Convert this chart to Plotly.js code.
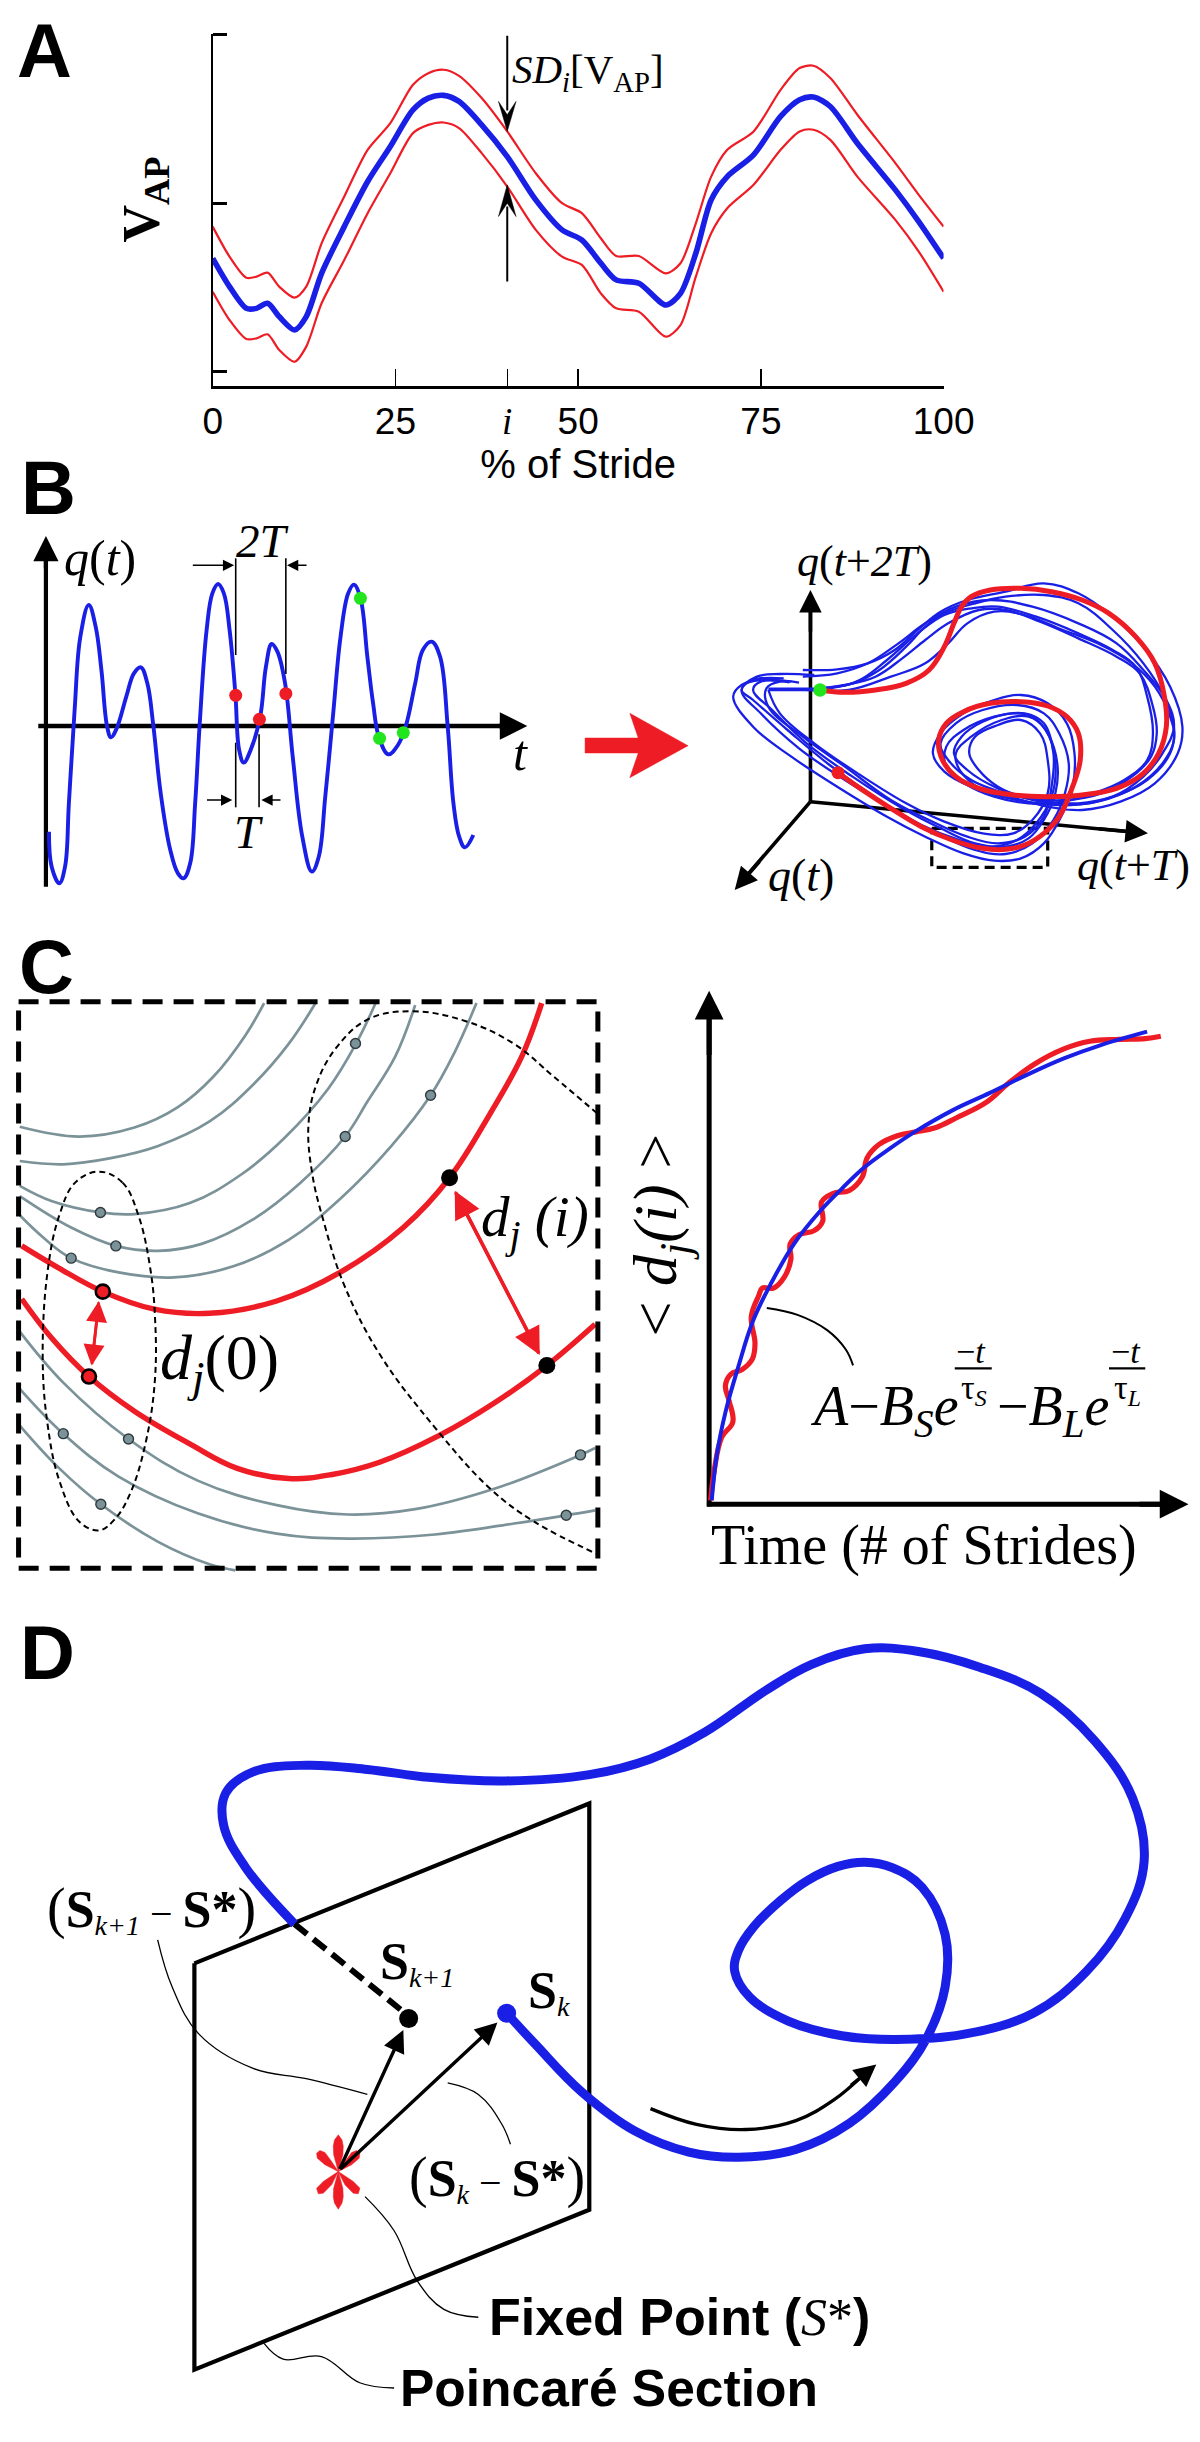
<!DOCTYPE html>
<html><head><meta charset="utf-8">
<script src="https://cdn.plot.ly/plotly-3.0.1.min.js"></script>
<style>html,body{margin:0;padding:0;background:#fff}</style></head>
<body><div id="chart" style="width:1200px;height:2442px"></div>
<script>
// ---------- Panel A data: % of stride vs V_AP ----------
const strideX=[0,2.3,4.6,6,7.5,9.1,11.2,12.8,14.9,18,21.2,24.3,27.4,29.5,31.6,33.7,36.8,40.3,44.2,47.8,50.5,53.1,55.2,58.3,62,64,66.1,68.2,70.4,74,77.7,80.3,82.2,84.5,88.2,93.4,96.6,100];
const vapMean=[-.327,-.495,-.624,-.624,-.594,-.673,-.752,-.673,-.416,-.139,.129,.337,.554,.624,.640,.604,.465,.277,.02,-.158,-.218,-.356,-.455,-.475,-.604,-.535,-.297,.02,.158,.287,.515,.614,.630,.574,.356,.079,-.109,-.327];
const vapUpper=[-.139,-.317,-.442,-.436,-.412,-.495,-.560,-.495,-.238,.040,.317,.475,.703,.772,.792,.756,.624,.426,.178,0,-.059,-.208,-.313,-.313,-.416,-.356,-.119,.158,.317,.426,.673,.802,.816,.743,.525,.238,.05,-.139];
const vapLower=[-.525,-.693,-.806,-.802,-.778,-.871,-.941,-.851,-.594,-.337,-.059,.178,.416,.465,.479,.446,.297,.099,-.158,-.317,-.366,-.535,-.624,-.644,-.792,-.723,-.436,-.178,-.03,.109,.317,.426,.436,.376,.158,-.099,-.287,-.525];
const strideTicks=[0,25,40.3,50,75,100];
const strideLabels=['0','25','<span style="font-family:Liberation Serif"><i>i</i></span>','50','75','100'];
const vapTicks=[-1,0,1];
const sdDownHead=[[40.3,.426],[41.5,.604],[40.3,.525],[39.1,.604],[40.3,.426]];
const sdUpHead=[[40.3,.109],[41.5,-.079],[40.3,0],[39.1,-.079],[40.3,.109]];

// ---------- Panel B data ----------
const qSignal=[[128,1085],[135,1190],[155,1240],[170,1190],[180,1000],[195,720],[210,500],[232,405],[250,470],[265,600],[280,770],[290,802],[305,775],[330,680],[350,610],[368,592],[385,640],[400,760],[420,970],[445,1140],[465,1210],[480,1225],[497,1180],[510,1000],[522,760],[540,480],[555,370],[570,342],[585,370],[600,480],[615,670],[625,840],[637,878],[655,840],[680,740],[695,590],[710,522],[725,545],[745,640],[765,860],[790,1100],[815,1205],[833,1160],[850,980],[870,740],[890,500],[910,370],[925,344],[942,385],[960,560],[975,700],[990,800],[1015,853],[1040,825],[1060,770],[1085,640],[1105,540],[1128,515],[1150,560],[1170,770],[1185,1000],[1200,1100],[1215,1132],[1237,1095]];
const qRedDots=[[616,676],[678,748],[747,671]];
const qGreenDots=[[942,385],[992,805],[1054,788]];
const qGuides=[[[616,265],[616,555]],[[747,265],[747,612]],[[616,818],[616,1012]],[[677,793],[677,1012]]];
const stateRed=[[622,818],[680,865],[760,925],[840,980],[920,1020],[1000,1045],[1060,1048],[1110,1035],[1160,1000],[1200,950],[1235,860],[1255,780],[1250,700],[1220,650],[1170,618],[1100,605],[1020,610],[950,635],[905,670],[885,720],[895,780],[930,830],[990,865],[1080,885],[1170,890],[1260,885],[1350,865],[1420,820],[1460,760],[1480,680],[1475,590],[1450,490],[1400,410],[1330,340],[1260,300],[1180,275],[1100,265],[1020,270],[970,290],[945,320],[925,370],[900,440],[860,510],[800,550],[720,570],[640,577],[575,570]];
const stateBlue1=[[530,510],[620,508],[700,490],[770,450],[830,390],[890,335],[960,300],[1060,275],[1160,250],[1250,280],[1340,350],[1420,440],[1490,560],[1522,680],[1510,760],[1450,850],[1360,905],[1260,930],[1170,920],[1070,890],[970,860],[900,815],[870,760],[890,700],[950,640],[1030,600],[1100,585],[1170,610],[1220,670],[1240,760],[1235,860],[1205,950],[1160,1030],[1100,1075],[1030,1082],[950,1060],[850,1010],[750,950],[620,860],[500,770],[400,680],[348,590],[370,555],[420,540],[500,545]];
const stateBlue2=[[575,565],[660,550],[730,510],[800,440],[850,380],[900,340],[980,310],[1060,290],[1160,285],[1250,310],[1340,390],[1420,490],[1475,590],[1500,680],[1490,760],[1430,840],[1340,890],[1250,910],[1170,905],[1060,880],[970,840],[910,780],[890,730],[930,670],[1000,630],[1090,615],[1160,640],[1200,700],[1225,790],[1215,880],[1185,960],[1130,1030],[1060,1062],[980,1050],[880,1000],[770,930],[640,840],[520,745],[420,640],[370,570],[410,530],[470,522],[560,525]];
const stateBlue3=[[540,570],[640,555],[720,530],[790,475],[850,420],[910,370],[990,330],[1060,330],[1150,365],[1250,415],[1350,470],[1410,520],[1445,620],[1455,700],[1440,770],[1390,830],[1310,880],[1220,900],[1130,895],[1040,865],[960,810],[925,760],[945,710],[1000,665],[1080,640],[1130,650],[1170,700],[1195,790],[1190,880],[1160,960],[1120,1015],[1060,1040],[980,1030],[890,985],[790,925],[660,830],[540,730],[450,630],[400,570],[420,545],[495,547]];
const stateBlue4=[[560,570],[670,545],[750,480],[830,400],[900,345],[970,325],[1040,320],[1140,350],[1250,400],[1340,450],[1400,500],[1430,590],[1445,700],[1430,780],[1370,840],[1290,880],[1210,905],[1120,910],[1030,890],[960,855],[905,800],[905,740],[950,690],[1030,650],[1110,640],[1160,670],[1185,760],[1180,860],[1160,950],[1110,1010],[1040,1030],[960,1010],[860,960],[760,900],[640,800],[530,710],[440,620],[435,565],[470,545],[520,548]];
const stateBlue5=[[550,570],[650,570],[760,530],[850,490],[910,430],[960,370],[1030,335],[1110,345],[1210,390],[1300,430],[1390,490],[1450,560],[1490,650],[1500,720],[1470,790],[1400,860],[1300,905],[1200,915],[1090,900],[1000,870],[940,810],[930,760],[970,710],[1050,660],[1120,650],[1165,690],[1190,790],[1180,890],[1140,970],[1090,1020],[1020,1040],[940,1020],[840,975],[730,900],[600,795],[490,690],[400,600],[370,570],[400,540],[480,535]];
const stateBlue6=[[440,570],[470,640],[560,730],[680,825],[800,910],[900,965],[1000,1000],[1080,1000],[1130,960],[1170,880],[1170,780],[1150,700],[1100,660],[1040,675],[980,710],[965,760],[990,810],[1040,860],[1130,900],[1230,915],[1340,890],[1420,830],[1470,760],[1500,680],[1480,600],[1420,510],[1350,430],[1250,370],[1130,320],[1020,300],[930,320],[850,370],[780,430],[700,490],[620,520],[530,530]];
const stateThick=[[440,568],[575,568]];
const zoomBox=[[867,985],[1170,985],[1170,1102],[867,1102],[867,985]];
const bigArrow=[[-39,714],[100,714],[78,640],[230,737],[78,833],[100,759],[-39,759],[-39,714]];

// ---------- Panel C data ----------
const cBorder=[[47,127],[1512,127],[1512,1515],[47,1515],[47,127]];
const neighbours=[
 [[668,130],[620,210],[540,310],[450,385],[340,435],[200,457],[50,433]],
 [[798,130],[730,230],[640,330],[530,420],[400,480],[280,510],[160,525],[50,517]],
 [[950,130],[900,230],[830,340],[720,460],[610,550],[480,620],[340,647],[254,643],[130,615],[50,578]],
 [[1050,135],[1000,260],[930,370],[873,457],[760,570],[640,660],[510,720],[400,737],[293,725],[180,680],[50,603]],
 [[1205,130],[1150,250],[1089,356],[990,480],[860,610],[730,710],[590,775],[440,802],[300,790],[180,755],[110,705],[50,650]],
 [[50,935],[160,1060],[325,1198],[500,1300],[700,1360],[880,1383],[1050,1370],[1250,1320],[1468,1237],[1505,1220]],
 [[50,1075],[160,1185],[300,1290],[500,1380],[700,1430],[880,1442],[1100,1432],[1300,1405],[1432,1385],[1505,1373]],
 [[50,1165],[150,1270],[255,1358],[400,1450],[530,1505],[595,1520]]
];
const nearRed1=[[1370,130],[1320,260],[1240,400],[1137,558],[1020,680],[860,790],[700,860],[530,890],[390,880],[260,837],[150,780],[55,725]];
const nearRed2=[[1505,917],[1383,1018],[1250,1110],[1110,1190],[960,1255],[840,1285],[730,1295],[600,1270],[480,1210],[340,1130],[225,1045],[130,950],[55,855]];
const greyDots=[[899,229],[1089,356],[873,457],[254,643],[293,725],[180,755],[160,1185],[325,1198],[255,1358],[1468,1237],[1432,1385]];
const startDots=[[260,837],[225,1045]];
const endDots=[[1137,558],[1383,1018]];
const ellipseLeft=[[250,543],[310,570],[350,650],[380,780],[392,900],[392,1050],[370,1200],[330,1330],[290,1395],[250,1422],[200,1400],[150,1300],[120,1160],[108,1000],[120,790],[150,650],[190,570],[250,543]];
const ellipseRight=[[1510,400],[1400,310],[1300,230],[1180,175],[1040,150],[930,170],[850,240],[800,330],[780,430],[790,550],[820,670],[870,820],[960,990],[1100,1170],[1240,1320],[1350,1400],[1510,1480]];
const divergence=[[245,1360],[255,1280],[275,1195],[305,1155],[295,1100],[285,1060],[300,1030],[330,1018],[358,990],[365,950],[355,880],[375,825],[385,805],[415,805],[445,775],[462,730],[460,690],[485,665],[525,655],[548,630],[545,580],[575,558],[620,550],[655,515],[668,465],[700,430],[750,407],[800,397],[850,387],[910,360],[990,320],[1050,270],[1120,220],[1200,180],[1270,160],[1350,155],[1420,153],[1462,147]];
const divergenceFit=[[248,1360],[262,1240],[285,1130],[320,1010],[360,890],[410,790],[470,690],[540,605],[600,545],[660,490],[730,440],[800,395],[900,340],[1000,295],[1100,248],[1200,205],[1300,170],[1425,135]];
const fitCallout=[[397,857],[480,875],[560,915],[610,965],[630,1007]];

// ---------- Panel D data ----------
const section=[[254,655],[770,350],[770,1125],[254,1430],[254,655]];
const orbit=[[662,750],[700,810],[760,900],[830,975],[900,1015],[965,1025],[1040,1010],[1110,960],[1170,880],[1210,800],[1235,700],[1235,600],[1205,510],[1165,472],[1130,462],[1095,470],[1055,497],[1020,535],[985,585],[965,630],[960,670],[980,720],[1030,765],[1100,793],[1170,800],[1260,790],[1350,750],[1420,670],[1470,570],[1495,460],[1480,340],[1430,230],[1360,140],[1280,90],[1200,60],[1130,55],[1060,85],[1000,135],[920,215],[850,265],[770,295],[660,307],[560,300],[480,285],[400,277],[330,290],[295,330],[292,390],[320,470],[385,580]];
const orbitHidden=[[385,580],[525,745]];
const flowArrow=[[850,932],[910,962],[975,972],[1040,955],[1090,915],[1125,872]];
const leader1=[[206,610],[225,700],[260,790],[330,855],[400,875],[480,905]];
const leader2=[[585,883],[625,905],[655,960],[667,1000]];
const leader3=[[477,1100],[515,1165],[545,1260],[580,1315],[625,1330]];
const leader4=[[345,1380],[370,1410],[420,1405],[470,1455],[515,1465]];
const petals=[
 [[442,1052],[436,1020],[435.5,1004],[437,992],[442,982],[447,992],[448.5,1004],[448,1020],[442,1052]],
 [[442,1052],[424.6,1039.3],[414.6,1026.6],[413.7,1017],[418,1012],[424.6,1015.7],[433.3,1033],[442,1052]],
 [[442,1052],[459.4,1039.3],[469.4,1026.6],[470.3,1017],[466,1012],[459.4,1015.7],[450.7,1033],[442,1052]],
 [[442,1052],[422.4,1071],[413.7,1083.8],[415.9,1094.6],[422.4,1093.3],[433.3,1077.4],[442,1052]],
 [[442,1052],[461.6,1071],[470.3,1083.8],[468.1,1094.6],[461.6,1093.3],[450.7,1077.4],[442,1052]],
 [[442,1052],[436,1084],[435.5,1100],[437,1112],[442,1124],[447,1112],[448.5,1100],[448,1084],[442,1052]]
];

// ---------- colours and fonts ----------
const BLUE='#1a1fe6', RED='#ee1c25', GREEN='#22e51e', GREY='#7b9299', BLACK='#000';
const SERIF='Liberation Serif', SANS='Liberation Sans';

// ---------- layout helpers ----------
const W=1200,H=2442;
const layout={width:W,height:H,margin:{l:0,r:0,t:0,b:0},showlegend:false,hovermode:false,
  paper_bgcolor:'#fff',plot_bgcolor:'rgba(0,0,0,0)',annotations:[]};
const traces=[];
let panelCount=1;
function panel(ox,oy,sx,sy,zx0,zx1,zh){
  panelCount++;const n=panelCount;
  layout['xaxis'+n]={domain:[(ox+zx0/sx)/W,(ox+zx1/sx)/W],range:[zx0,zx1],visible:false,fixedrange:true,anchor:'y'+n};
  layout['yaxis'+n]={domain:[1-(oy+zh/sy)/H,1-oy/H],range:[zh,0],visible:false,fixedrange:true,anchor:'x'+n};
  return {x:'x'+n,y:'y'+n};
}
function line(p,pts,color,width,opt){opt=opt||{};
  traces.push({type:'scatter',mode:'lines',xaxis:p.x,yaxis:p.y,cliponaxis:false,
    x:pts.map(d=>d[0]),y:pts.map(d=>d[1]),
    line:{color:color,width:width,shape:opt.straight?'linear':'spline',smoothing:1.1,dash:opt.dash||'solid'}});
}
function fill(p,pts,color){
  traces.push({type:'scatter',mode:'lines',xaxis:p.x,yaxis:p.y,cliponaxis:false,fill:'toself',fillcolor:color,
    x:pts.map(d=>d[0]),y:pts.map(d=>d[1]),line:{color:color,width:0.5,shape:'linear'}});
}
function dots(p,pts,color,size,border,bw){
  traces.push({type:'scatter',mode:'markers',xaxis:p.x,yaxis:p.y,cliponaxis:false,
    x:pts.map(d=>d[0]),y:pts.map(d=>d[1]),
    marker:{color:color,size:size,line:{color:border||color,width:bw||0}}});
}
function arrow(p,a,b,color,w,size){
  layout.annotations.push({xref:p.x,yref:p.y,axref:p.x,ayref:p.y,x:b[0],y:b[1],ax:a[0],ay:a[1],text:'',
    showarrow:true,arrowhead:2,arrowsize:size,arrowwidth:w,arrowcolor:color,standoff:0,startstandoff:0});
}
function txt(p,x,y,s,size,family,opt){opt=opt||{};
  layout.annotations.push({xref:p.x,yref:p.y,x:x,y:y,text:s,showarrow:false,xanchor:opt.anchor||'center',yanchor:'middle',
    textangle:opt.angle||0,font:{size:size,family:family,color:BLACK},borderpad:0,borderwidth:0});
}
function letter(s,x,y){
  layout.annotations.push({xref:'paper',yref:'paper',x:x/W,y:1-y/H,text:'<b>'+s+'</b>',showarrow:false,xanchor:'left',yanchor:'middle',
    font:{size:76,family:SANS,color:BLACK}});
}

// ---------- Panel A ----------
layout.xaxis={domain:[212.7/W,943.6/W],range:[0,100],anchor:'y',fixedrange:true,showgrid:false,zeroline:false,
  showline:true,linecolor:BLACK,linewidth:3.5,ticks:'inside',ticklen:17,tickwidth:1.5,tickcolor:BLACK,
  tickmode:'array',tickvals:strideTicks,ticktext:strideLabels,tickfont:{size:37,family:SANS,color:BLACK},tickangle:0,
  title:{text:'% of Stride',font:{size:40,family:SANS,color:BLACK},standoff:8}};
layout.yaxis={domain:[1-385.7/H,1-33.7/H],range:[-1.083,1.006],anchor:'x',fixedrange:true,showgrid:false,zeroline:false,
  showline:true,linecolor:BLACK,linewidth:2.2,ticks:'inside',ticklen:14,tickwidth:2.8,tickcolor:BLACK,
  tickmode:'array',tickvals:vapTicks,showticklabels:false};
const pA={x:'x',y:'y'};
traces.push({type:'scatter',mode:'lines',x:strideX,y:vapUpper,cliponaxis:false,line:{color:RED,width:2.2,shape:'spline',smoothing:.8}});
traces.push({type:'scatter',mode:'lines',x:strideX,y:vapLower,cliponaxis:false,line:{color:RED,width:2.2,shape:'spline',smoothing:.8}});
traces.push({type:'scatter',mode:'lines',x:strideX,y:vapMean,cliponaxis:false,line:{color:BLUE,width:5.6,shape:'spline',smoothing:.8}});
line(pA,[[40.3,.994],[40.3,.55]],BLACK,2,{straight:true});
line(pA,[[40.3,-.465],[40.3,-.02]],BLACK,2,{straight:true});
fill(pA,sdDownHead,BLACK);
fill(pA,sdUpHead,BLACK);
txt(pA,51.3,.776,'<i>SD<sub>i</sub></i>[V<sub>AP</sub>]',41,SERIF);
layout.annotations.push({xref:'paper',yref:'paper',x:145/W,y:1-199.5/H,text:'<b>V<sub>AP</sub></b>',showarrow:false,
  textangle:-90,xanchor:'center',yanchor:'middle',font:{size:52,family:SERIF,color:BLACK}});
letter('A',15,51);

// ---------- Panel B, left ----------
const pB=panel(0,470,1568/600,3,0,1568,1350);
line(pB,[[120,1250],[120,230]],BLACK,4.2,{straight:true});
line(pB,[[100,768],[1340,768]],BLACK,4.4,{straight:true});
arrow(pB,[120,300],[120,198],BLACK,4.2,1.2);
arrow(pB,[1300,768],[1378,768],BLACK,4.4,1.25);
qGuides.forEach(g=>line(pB,g,BLACK,1.6,{straight:true}));
line(pB,qSignal,BLUE,3.9);
dots(pB,qRedDots,RED,13);
dots(pB,qGreenDots,GREEN,13);
arrow(pB,[500,286],[612,286],BLACK,1.5,1.5);
arrow(pB,[805,286],[750,286],BLACK,1.5,1.5);
arrow(pB,[537,990],[607,990],BLACK,1.5,1.5);
arrow(pB,[737,990],[683,990],BLACK,1.5,1.5);
txt(pB,262,265,'<i>q</i>(<i>t</i>)',50,SERIF);
txt(pB,685,212,'<i>2T</i>',47,SERIF);
txt(pB,1360,850,'<i>t</i>',50,SERIF);
txt(pB,650,1085,'<i>T</i>',47,SERIF);
letter('B',19,488);

// ---------- Panel B, right ----------
const pS=panel(600,500,1568/600,3,-100,1568,1260);
fill(pS,bigArrow,RED);
line(pS,[[550,905],[550,320]],BLACK,3.6,{straight:true});
line(pS,[[550,905],[1390,996]],BLACK,3.6,{straight:true});
line(pS,[[550,905],[385,1125]],BLACK,3.6,{straight:true});
arrow(pS,[550,400],[550,270],BLACK,3.6,1.25);
arrow(pS,[1300,986],[1432,1000],BLACK,3.6,1.25);
arrow(pS,[420,1080],[352,1170],BLACK,3.6,1.25);
line(pS,zoomBox,BLACK,3.2,{straight:true,dash:'10px,6px'});
[stateBlue1,stateBlue2,stateBlue3,stateBlue4,stateBlue5,stateBlue6].forEach(c=>line(pS,c,BLUE,2.3));
line(pS,stateThick,BLUE,3.6,{straight:true});
line(pS,stateRed,RED,5);
dots(pS,[stateRed[0]],RED,13);
dots(pS,[stateRed[stateRed.length-1]],GREEN,13.5);
txt(pS,690,185,'<i>q</i>(<i>t</i>+<i>2T</i>)',44,SERIF);
txt(pS,1395,1095,'<i>q</i>(<i>t</i>+<i>T</i>)',44,SERIF);
txt(pS,525,1125,'<i>q</i>(<i>t</i>)',46,SERIF);

// ---------- Panel C, left ----------
const pC=panel(0,950,1568/620,1568/640,0,1568,1568);
neighbours.forEach(c=>line(pC,c,GREY,2.7));
line(pC,nearRed1,RED,5.4);
line(pC,nearRed2,RED,5.4);
line(pC,ellipseLeft,BLACK,2,{dash:'6px,4px'});
line(pC,ellipseRight,BLACK,2,{dash:'6px,4px'});
line(pC,cBorder,BLACK,5,{straight:true,dash:'20px,11px'});
dots(pC,greyDots,GREY,10,'#2e3a3e',1.4);
arrow(pC,[232,1018],[250,860],RED,2.8,1.5);
arrow(pC,[250,860],[232,1018],RED,2.8,1.5);
arrow(pC,[1365,992],[1150,590],RED,3.4,1.6);
arrow(pC,[1150,590],[1365,992],RED,3.4,1.6);
dots(pC,startDots,RED,14,BLACK,2.6);
dots(pC,endDots,BLACK,17);
txt(pC,555,1010,'<i>d<sub>j</sub></i>(0)',64,SERIF);
txt(pC,1352,665,'<i>d<sub>j</sub> (i)</i>',57,SERIF);
letter('C',17,967);

// ---------- Panel C, right ----------
const pL=panel(620,980,1568/580,1568/600,0,1568,1568);
line(pL,[[241,1376],[241,90]],BLACK,5,{straight:true});
line(pL,[[235,1370],[1470,1370]],BLACK,5,{straight:true});
arrow(pL,[241,200],[241,28],BLACK,5,1.15);
arrow(pL,[1400,1370],[1537,1370],BLACK,5,1.15);
line(pL,divergence,RED,5.2);
line(pL,divergenceFit,BLUE,4);
line(pL,fitCallout,BLACK,2);
line(pL,[[905,1015],[1005,1015]],BLACK,2.2,{straight:true});
line(pL,[[1322,1015],[1420,1015]],BLACK,2.2,{straight:true});
txt(pL,822,1478,'Time (# of Strides)',56,SERIF);
txt(pL,108,665,'&lt; <i>d<sub>j</sub>(i)</i> &gt;',62,SERIF,{angle:-90});
txt(pL,715,1125,'<i>A</i>\u2212<i>B<sub>S</sub>e</i>',56,SERIF);
txt(pL,1170,1125,'\u2212<i>B<sub>L</sub>e</i>',56,SERIF);
txt(pL,950,970,'\u2212<i>t</i>',34,SERIF);
txt(pL,958,1072,'\u03c4<i><sub>S</sub></i>',34,SERIF);
txt(pL,1368,970,'\u2212<i>t</i>',34,SERIF);
txt(pL,1372,1072,'\u03c4<i><sub>L</sub></i>',34,SERIF);

// ---------- Panel D ----------
const pD=panel(0,1620,1568/1200,1568/822,0,1568,1568);
line(pD,section,BLACK,4.2,{straight:true});
line(pD,leader1,BLACK,1.3);line(pD,leader2,BLACK,1.3);line(pD,leader3,BLACK,1.3);line(pD,leader4,BLACK,1.3);
line(pD,orbit,BLUE,9);
line(pD,orbitHidden,BLACK,6,{straight:true,dash:'16px,8px'});
line(pD,flowArrow,BLACK,3.4);
arrow(pD,[1110,890],[1145,848],BLACK,3.4,1.3);
petals.forEach(c=>fill(pD,c,RED));
arrow(pD,[443,1050],[527,782],BLACK,3.4,1.3);
arrow(pD,[443,1050],[650,768],BLACK,3.4,1.3);
dots(pD,[[534,760]],BLACK,19);
dots(pD,[orbit[0]],BLUE,19);
const bigS=s=>'<span style="font-size:52px"><b>'+s+'</b></span>';
txt(pD,198,552,'<span style="font-size:56px">(</span>'+bigS('S')+'<sub><i>k+1</i></sub> \u2212 '+bigS('S*')+'<span style="font-size:56px">)</span>',40,SERIF);
txt(pD,545,655,bigS('S')+'<sub><i>k+1</i></sub>',40,SERIF);
txt(pD,717,710,bigS('S')+'<sub><i>k</i></sub>',40,SERIF);
txt(pD,650,1065,'<span style="font-size:56px">(</span>'+bigS('S')+'<sub><i>k</i></sub> \u2212 '+bigS('S*')+'<span style="font-size:56px">)</span>',40,SERIF);
txt(pD,888,1330,'<b>Fixed Point (</b><span style="font-family:Liberation Serif"><i>S</i>*</span><b>)</b>',52,SANS);
txt(pD,796,1465,'<b>Poincar\u00e9 Section</b>',51.5,SANS);
letter('D',18,1652);

Plotly.newPlot('chart',traces,layout,{staticPlot:true,displayModeBar:false});
</script></body></html>
